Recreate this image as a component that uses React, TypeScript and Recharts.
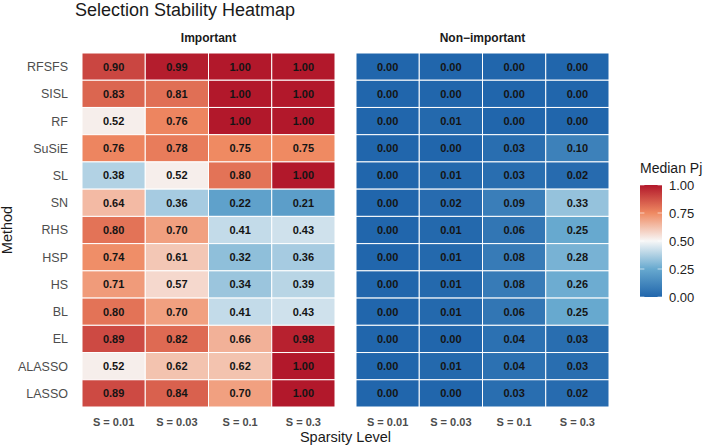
import React from "react";
import { Scatter, ScatterChart, XAxis, YAxis } from "recharts";

const METHODS = [
  "RFSFS", "SISL", "RF", "SuSiE", "SL", "SN", "RHS",
  "HSP", "HS", "BL", "EL", "ALASSO", "LASSO",
];
const SPARSITY = ["S = 0.01", "S = 0.03", "S = 0.1", "S = 0.3"];

// median Pj per method (rows follow METHODS, columns follow SPARSITY)
const IMPORTANT = [
  [0.9, 0.99, 1.0, 1.0],
  [0.83, 0.81, 1.0, 1.0],
  [0.52, 0.76, 1.0, 1.0],
  [0.76, 0.78, 0.75, 0.75],
  [0.38, 0.52, 0.8, 1.0],
  [0.64, 0.36, 0.22, 0.21],
  [0.8, 0.7, 0.41, 0.43],
  [0.74, 0.61, 0.32, 0.36],
  [0.71, 0.57, 0.34, 0.39],
  [0.8, 0.7, 0.41, 0.43],
  [0.89, 0.82, 0.66, 0.98],
  [0.52, 0.62, 0.62, 1.0],
  [0.89, 0.84, 0.7, 1.0],
];
const NON_IMPORTANT = [
  [0.0, 0.0, 0.0, 0.0],
  [0.0, 0.0, 0.0, 0.0],
  [0.0, 0.01, 0.0, 0.0],
  [0.0, 0.0, 0.03, 0.1],
  [0.0, 0.01, 0.03, 0.02],
  [0.0, 0.02, 0.09, 0.33],
  [0.0, 0.01, 0.06, 0.25],
  [0.0, 0.01, 0.08, 0.28],
  [0.0, 0.01, 0.08, 0.26],
  [0.0, 0.01, 0.06, 0.25],
  [0.0, 0.0, 0.04, 0.03],
  [0.0, 0.01, 0.04, 0.03],
  [0.0, 0.0, 0.03, 0.02],
];
const LEGEND_BREAKS = [0, 0.25, 0.5, 0.75, 1];

// RdBu-style ramp, blue low / red high, white around 0.5
const COLOR_STOPS: [number, string][] = [
  [0, "#2166AC"],
  [0.25, "#67A9CF"],
  [0.5, "#F7F7F7"],
  [0.75, "#EF8A62"],
  [1, "#B2182B"],
];

const FONT = "'Liberation Sans', Arial, Helvetica, sans-serif";
const PLOT_TOP = 53;
const PLOT_H = 354;
const PLOT_W = 253;
const CELL_W = PLOT_W / SPARSITY.length;
const CELL_H = PLOT_H / METHODS.length;

function hex(c: string) {
  return [1, 3, 5].map((i) => parseInt(c.slice(i, i + 2), 16));
}

function fillFor(v: number) {
  for (let i = 1; i < COLOR_STOPS.length; i++) {
    const [a, ca] = COLOR_STOPS[i - 1];
    const [b, cb] = COLOR_STOPS[i];
    if (v <= b) {
      const t = (v - a) / (b - a);
      const x = hex(ca);
      const y = hex(cb);
      const m = x.map((p, k) => Math.round(p + (y[k] - p) * t));
      return `rgb(${m[0]},${m[1]},${m[2]})`;
    }
  }
  return COLOR_STOPS[COLOR_STOPS.length - 1][1];
}

function toCells(values: number[][]) {
  return values.flatMap((row, r) =>
    row.map((value, c) => ({ row: r, col: c, value }))
  );
}

function HeatCell(props: any) {
  const { cx, cy, payload } = props;
  if (cx == null || cy == null) return null;
  return (
    <g>
      <rect
        x={cx - CELL_W / 2}
        y={cy - CELL_H / 2}
        width={CELL_W}
        height={CELL_H}
        fill={fillFor(payload.value)}
        stroke="#fff"
        strokeWidth={1}
      />
      <text
        x={cx}
        y={cy}
        dy="0.36em"
        textAnchor="middle"
        fontSize={11}
        fontWeight="bold"
        fontFamily={FONT}
        fill="#141414"
      >
        {payload.value.toFixed(2)}
      </text>
    </g>
  );
}

function Panel({
  values,
  left,
  width,
  marginLeft,
  showY,
}: {
  values: number[][];
  left: number;
  width: number;
  marginLeft: number;
  showY: boolean;
}) {
  return (
    <div style={{ position: "absolute", left, top: 0 }}>
      <ScatterChart
        width={width}
        height={446}
        margin={{ top: PLOT_TOP, right: 5, bottom: 0, left: marginLeft }}
      >
        <XAxis
          type="number"
          dataKey="col"
          domain={[-0.5, SPARSITY.length - 0.5]}
          ticks={SPARSITY.map((_, i) => i)}
          tickFormatter={(i) => SPARSITY[i]}
          interval={0}
          height={39}
          axisLine={false}
          tickLine={false}
          tickMargin={5}
          tick={{ fill: "#4d4d4d", fontSize: 11, fontWeight: "bold", fontFamily: FONT }}
        />
        <YAxis
          type="number"
          dataKey="row"
          domain={[-0.5, METHODS.length - 0.5]}
          ticks={METHODS.map((_, i) => i)}
          tickFormatter={(i) => METHODS[i]}
          interval={0}
          reversed
          hide={!showY}
          width={82}
          axisLine={false}
          tickLine={false}
          tickMargin={8}
          tick={{ fill: "#4d4d4d", fontSize: 12.5, fontFamily: FONT }}
        />
        <Scatter data={toCells(values)} shape={HeatCell} isAnimationActive={false} />
      </ScatterChart>
    </div>
  );
}

export default function App() {
  const barX = 640;
  const barTop = 185;
  const barH = 112;
  const barW = 22;
  return (
    <div
      style={{
        position: "absolute",
        left: 0,
        top: 0,
        width: 709,
        height: 446,
        background: "#fff",
        fontFamily: FONT,
      }}
    >
      <Panel values={IMPORTANT} left={0} width={340} marginLeft={0} showY />
      <Panel values={NON_IMPORTANT} left={340} width={274} marginLeft={16} showY={false} />
      <svg
        width={709}
        height={446}
        style={{ position: "absolute", left: 0, top: 0, pointerEvents: "none" }}
        fontFamily={FONT}
      >
        <text x={75} y={16} fontSize={18} fill="#1a1a1a">
          Selection Stability Heatmap
        </text>
        <text x={208.5} y={42} fontSize={12} fontWeight="bold" textAnchor="middle" fill="#1a1a1a">
          Important
        </text>
        <text x={482.5} y={42} fontSize={12} fontWeight="bold" textAnchor="middle" fill="#1a1a1a">
          Non−important
        </text>
        <text x={345.5} y={442} fontSize={14.5} textAnchor="middle" fill="#1a1a1a">
          Sparsity Level
        </text>
        <text
          x={12}
          y={230}
          fontSize={14.5}
          textAnchor="middle"
          fill="#1a1a1a"
          transform="rotate(-90 12 230)"
        >
          Method
        </text>
        <defs>
          <linearGradient id="pj" x1="0" y1="1" x2="0" y2="0">
            {COLOR_STOPS.map(([at, color]) => (
              <stop key={at} offset={at} stopColor={color} />
            ))}
          </linearGradient>
        </defs>
        <text x={barX} y={173} fontSize={14} fill="#1a1a1a">
          Median Pj
        </text>
        <rect x={barX} y={barTop} width={barW} height={barH} fill="url(#pj)" />
        {LEGEND_BREAKS.map((b) => {
          const y = barTop + barH - b * barH;
          return (
            <g key={b}>
              <line x1={barX} x2={barX + 4.4} y1={y} y2={y} stroke="#fff" strokeOpacity={0.6} />
              <line x1={barX + barW - 4.4} x2={barX + barW} y1={y} y2={y} stroke="#fff" strokeOpacity={0.6} />
              <text x={669} y={y} dy="0.36em" fontSize={13} fill="#222">
                {b.toFixed(2)}
              </text>
            </g>
          );
        })}
      </svg>
    </div>
  );
}
